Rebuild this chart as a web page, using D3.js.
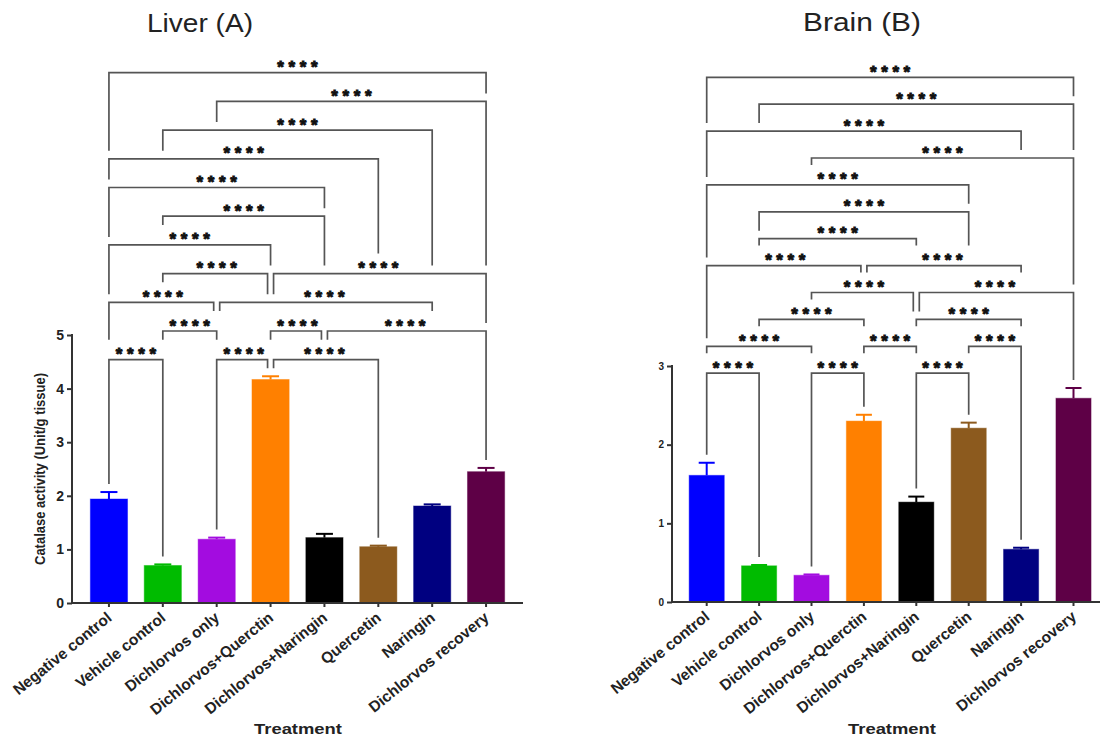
<!DOCTYPE html>
<html>
<head>
<meta charset="utf-8">
<script src="https://cdn.jsdelivr.net/npm/d3@7"></script>
<style>
  body { margin: 0; background: #fff; }
  svg { display: block; font-family: "Liberation Sans", Arial, sans-serif; }
</style>
</head>
<body>
<script>
// treatments (same for both panels)
var categories = ["Negative control", "Vehicle control", "Dichlorvos only", "Dichlorvos+Querctin",
                  "Dichlorvos+Naringin", "Quercetin", "Naringin", "Dichlorvos recovery"];
var barColors = ["#0000ff", "#00bb00", "#a30ce0", "#ff8000", "#000000", "#8c5a1e", "#000080", "#5e0046"];

// liver catalase (mean, error)
var liverMean = [1.94, 0.70, 1.19, 4.17, 1.22, 1.05, 1.81, 2.45];
var liverErr  = [0.13, 0.02, 0.03, 0.06, 0.07, 0.02, 0.03, 0.07];
var liverTicks = [0, 1, 2, 3, 4, 5];

// brain catalase (mean, error)
var brainMean = [1.61, 0.46, 0.34, 2.30, 1.27, 2.21, 0.67, 2.59];
var brainErr  = [0.16, 0.01, 0.01, 0.08, 0.07, 0.07, 0.02, 0.13];
var brainTicks = [0, 1, 2, 3];

// significance brackets: [level, from, to, label]  (level 1 = top)
var liverBrackets = [
  [1, 0, 7, "****"], [2, 2, 7, "****"], [3, 1, 6, "****"], [4, 0, 5, "****"],
  [5, 0, 4, "****"], [6, 1, 4, "****"], [7, 0, 3, "****"],
  [8, 1, 3, "****"], [8, 3, 7, "****"],
  [9, 0, 2, "****"], [9, 2, 6, "****"],
  [10, 1, 2, "****"], [10, 3, 4, "****"], [10, 4, 7, "****"],
  [11, 0, 1, "****"], [11, 2, 3, "****"], [11, 3, 5, "****"]
];
var brainBrackets = [
  [1, 0, 7, "****"], [2, 1, 7, "****"], [3, 0, 6, "****"], [4, 2, 7, "****"],
  [5, 0, 5, "****"], [6, 1, 5, "****"], [7, 1, 4, "****"],
  [8, 0, 3, "****"], [8, 3, 6, "****"],
  [9, 2, 4, "****"], [9, 4, 7, "****"],
  [10, 1, 3, "****"], [10, 4, 6, "****"],
  [11, 0, 2, "****"], [11, 3, 4, "****"], [11, 5, 6, "****"],
  [12, 0, 1, "****"], [12, 2, 3, "****"], [12, 4, 5, "****"]
];

var W = 1100, H = 738;
var svg = d3.select("body").append("svg").attr("width", W).attr("height", H);

function drawPanel(o) {
  var g = svg.append("g");

  var x = d3.scaleBand().domain(categories)
            .range(o.xRange).paddingInner(o.pad).paddingOuter(o.pad / 2);
  var y = d3.scaleLinear().domain([0, d3.max(o.ticks)]).range(o.yRange);
  var xc = function(i) { return x(categories[i]) + x.bandwidth() / 2; };

  // title (source figure is a bit stretched sideways)
  g.append("text").attr("x", o.titleX).attr("y", o.titleY)
    .attr("text-anchor", "middle").attr("font-size", 26).attr("fill", "#222")
    .attr("textLength", o.titleW).attr("lengthAdjust", "spacingAndGlyphs")
    .text(o.title);

  // bars
  g.selectAll("rect.bar").data(o.mean).enter().append("rect")
    .attr("x", function(d, i) { return x(categories[i]); })
    .attr("y", function(d) { return y(d); })
    .attr("width", x.bandwidth())
    .attr("height", function(d) { return y(0) - y(d); })
    .attr("fill", function(d, i) { return barColors[i]; })
    .attr("stroke", function(d, i) { return barColors[i]; })
    .attr("stroke-opacity", 0.45).attr("stroke-width", 1);

  // error bars (upper only)
  var eb = g.selectAll("g.err").data(o.mean).enter().append("g")
    .attr("stroke", function(d, i) { return barColors[i]; })
    .attr("stroke-width", 2);
  eb.append("line")
    .attr("x1", function(d, i) { return xc(i); }).attr("x2", function(d, i) { return xc(i); })
    .attr("y1", function(d) { return y(d); })
    .attr("y2", function(d, i) { return y(d + o.err[i]); });
  eb.append("line")
    .attr("x1", function(d, i) { return xc(i) - o.cap; }).attr("x2", function(d, i) { return xc(i) + o.cap; })
    .attr("y1", function(d, i) { return y(d + o.err[i]); })
    .attr("y2", function(d, i) { return y(d + o.err[i]); });

  // y axis
  var yAxis = d3.axisLeft(y).tickValues(o.ticks).tickFormat(d3.format("d")).tickSize(5).tickPadding(3);
  var ya = g.append("g").attr("transform", "translate(" + o.axisX + ",0)").call(yAxis);
  ya.select(".domain").remove();
  ya.selectAll("line").attr("stroke", "#333").attr("stroke-width", 2);
  ya.selectAll("text").attr("font-size", o.tickFont).attr("font-weight", "bold").attr("fill", "#222")
    .attr("font-family", "Liberation Sans, Arial, sans-serif");
  g.append("line").attr("x1", o.axisX).attr("x2", o.axisX)
    .attr("y1", y(0) + 1).attr("y2", y(d3.max(o.ticks)) - 1)
    .attr("stroke", "#333").attr("stroke-width", 2);

  // x axis
  var xAxis = d3.axisBottom(x).tickSize(4).tickFormat("");
  var xa = g.append("g").attr("transform", "translate(0," + y(0) + ")").call(xAxis);
  xa.select(".domain").remove();
  xa.selectAll("line").attr("stroke", "#333").attr("stroke-width", 2);
  g.append("line").attr("x1", o.axisX - 1).attr("x2", o.axisEnd)
    .attr("y1", y(0)).attr("y2", y(0)).attr("stroke", "#333").attr("stroke-width", 2);

  // rotated category labels
  g.selectAll("text.cat").data(categories).enter().append("text")
    .attr("transform", function(d, i) {
      return "translate(" + (xc(i) - 3) + "," + (y(0) + 8) + ") rotate(-39)";
    })
    .attr("text-anchor", "end").attr("dy", "0.7em")
    .attr("font-size", 15.5).attr("font-weight", "bold").attr("fill", "#222")
    .text(function(d) { return d; });

  g.append("text").attr("x", o.xTitleX).attr("y", 734)
    .attr("text-anchor", "middle").attr("font-size", 14.5).attr("font-weight", "bold").attr("fill", "#222")
    .attr("textLength", 88).attr("lengthAdjust", "spacingAndGlyphs")
    .text("Treatment");

  if (o.yTitle) {
    g.append("text")
      .attr("transform", "translate(" + o.yTitleX + "," + (y(0) + y(d3.max(o.ticks))) / 2 + ") rotate(-90)")
      .attr("text-anchor", "middle").attr("font-size", 14).attr("font-weight", "bold").attr("fill", "#222")
      .attr("textLength", 192).attr("lengthAdjust", "spacingAndGlyphs")
      .text(o.yTitle);
  }

  // significance brackets
  var off = 3;
  var br = o.brackets.map(function(b) {
    return { level: b[0], from: b[1], to: b[2], label: b[3] };
  });
  br.forEach(function(b) {
    b.y = o.brTop + (b.level - 1) * o.brStep;
    var shareL = br.some(function(c) { return c !== b && c.level === b.level && c.to === b.from; });
    var shareR = br.some(function(c) { return c !== b && c.level === b.level && c.from === b.to; });
    b.x1 = xc(b.from) + (shareL ? off : 0);
    b.x2 = xc(b.to) - (shareR ? off : 0);
    b.cx = (xc(b.from) + xc(b.to)) / 2;
  });
  // a leg runs down until it nears a lower bracket line or its star label
  function legEnd(b, idx, lx) {
    var stop = y(o.mean[idx] + o.err[idx]) - 8;
    br.forEach(function(c) {
      if (c.level <= b.level) return;
      if (c.from <= idx && idx <= c.to) stop = Math.min(stop, c.y - 8);
      if (Math.abs(lx - c.cx) < 30) stop = Math.min(stop, c.y - 20);
    });
    return stop;
  }
  var bg = g.append("g");
  br.forEach(function(b) {
    bg.append("path")
      .attr("d", "M" + b.x1 + "," + legEnd(b, b.from, b.x1) + "V" + b.y + "H" + b.x2 + "V" + legEnd(b, b.to, b.x2))
      .attr("fill", "none").attr("stroke", "#555").attr("stroke-width", 1.7);
    bg.append("text").attr("x", b.cx + 2.3).attr("y", b.y + 0.5)
      .attr("text-anchor", "middle").attr("font-size", 17).attr("font-weight", "bold")
      .attr("letter-spacing", 4.6).attr("fill", "#111")
      .attr("stroke", "#111").attr("stroke-width", 0.9)
      .text(b.label);
  });
}

drawPanel({
  title: "Liver (A)", titleX: 200, titleY: 32, titleW: 106,
  mean: liverMean, err: liverErr, ticks: liverTicks, brackets: liverBrackets,
  xRange: [82, 513], pad: 0.31, yRange: [603, 335],
  axisX: 72, axisEnd: 523, tickFont: 14, cap: 8.5,
  xTitleX: 298, yTitle: "Catalase activity (Unit/g tissue)", yTitleX: 45,
  brTop: 72.7, brStep: 28.7
});

drawPanel({
  title: "Brain (B)", titleX: 862, titleY: 31, titleW: 118,
  mean: brainMean, err: brainErr, ticks: brainTicks, brackets: brainBrackets,
  xRange: [680.5, 1099.7], pad: 0.33, yRange: [602, 366],
  axisX: 672, axisEnd: 1100, tickFont: 10, cap: 8,
  xTitleX: 892, yTitle: null,
  brTop: 77.3, brStep: 26.9
});
</script>
</body>
</html>
